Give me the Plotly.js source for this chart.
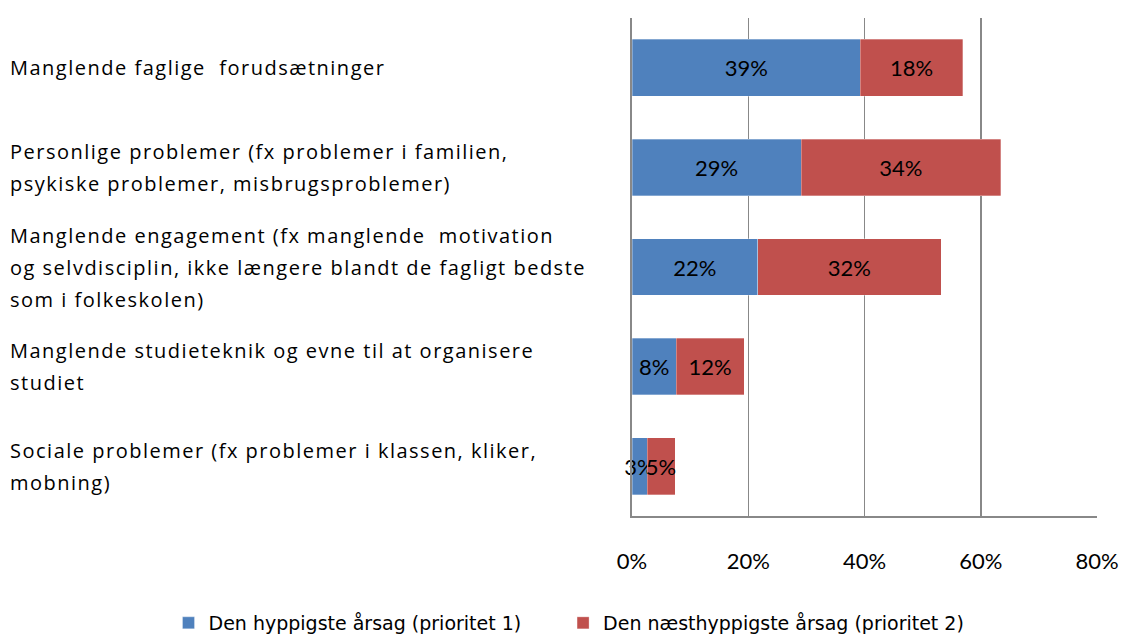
<!DOCTYPE html>
<html>
<head>
<meta charset="utf-8">
<script src="https://cdn.plot.ly/plotly-3.0.1.min.js"></script>
<style>
html,body{margin:0;padding:0;background:#fff;}
#chart{width:1127px;height:639px;}
#chart .annotation-text{letter-spacing:1.5px;}
</style>
</head>
<body>
<div id="chart"></div>
<script>
// Category labels (each entry = lines of the label), top to bottom
const categoryLines = [
  ["Manglende faglige  forudsætninger"],
  ["Personlige problemer (fx problemer i familien,", "psykiske problemer, misbrugsproblemer)"],
  ["Manglende engagement (fx manglende  motivation", "og selvdisciplin, ikke længere blandt de fagligt bedste", "som i folkeskolen)"],
  ["Manglende studieteknik og evne til at organisere", "studiet"],
  ["Sociale problemer (fx problemer i klassen, kliker,", "mobning)"]
];
const seriesNames = ["Den hyppigste årsag (prioritet 1)", "Den næsthyppigste årsag (prioritet 2)"];
const priority1 = [39.3, 29.1, 21.6, 7.6, 2.6];
const priority2 = [17.6, 34.3, 31.6, 11.7, 4.8];
const xTickVals = [0, 20, 40, 60, 80];
const xTickText = ["0%", "20%", "40%", "60%", "80%"];

const categories = categoryLines.map(l => l.join(" "));
const colors = ["#4F81BD", "#C0504D"];
const labelFont = "'Open Sans', Lato, sans-serif";
const legendFont = "'DejaVu Sans', 'Open Sans', sans-serif";
const numFont = "Lato, 'Open Sans', sans-serif";

function barTrace(vals, name, color, legendId) {
  return {
    type: "bar", orientation: "h", y: categories, x: vals, name: name, legend: legendId,
    marker: {color: color, line: {color: "rgba(255,255,255,0.6)", width: 0.5}},
    text: vals.map(v => Math.round(v) + "%"),
    texttemplate: "%{text}",
    textposition: "inside", insidetextanchor: "middle", textangle: 0,
    constraintext: "none", cliponaxis: false,
    insidetextfont: {family: numFont, size: 22, color: "#000"},
    hoverinfo: "skip"
  };
}

const data = [
  barTrace(priority1, seriesNames[0], colors[0], "legend"),
  barTrace(priority2, seriesNames[1], colors[1], "legend2")
];

const annotations = categoryLines.map((lines, i) => ({
  xref: "paper", yref: "y", x: (7 - 632) / 465.5, y: categories[i],
  xanchor: "left", yanchor: "middle", align: "left", showarrow: false,
  text: lines.map(l => '<span style="font-size:20px">' + l + '</span>').join("<br>"),
  font: {family: labelFont, size: 24.5, color: "#000"}
}));

function legendAt(px) {
  return {
    orientation: "h", x: (px - 632) / 465.5, xanchor: "left", y: -(623 - 516) / 498, yanchor: "middle",
    font: {family: legendFont, size: 19, color: "#000"}, bgcolor: "rgba(0,0,0,0)"
  };
}

const layout = {
  width: 1127, height: 639,
  margin: {l: 632, r: 30, t: 18, b: 123, autoexpand: false},
  barmode: "stack", bargap: 0.43,
  paper_bgcolor: "#fff", plot_bgcolor: "#fff",
  font: {family: numFont, color: "#000"},
  showlegend: true,
  legend: legendAt(168),
  legend2: legendAt(563),
  xaxis: {
    range: [0, 80], tickvals: xTickVals, ticktext: xTickText,
    showgrid: true, gridcolor: "#888", gridwidth: 1.5,
    showline: true, linecolor: "#888", linewidth: 2, zeroline: false,
    ticks: "", ticklabelstandoff: 25,
    tickfont: {size: 22, color: "#000"}, fixedrange: true
  },
  yaxis: {
    type: "category", categoryorder: "array", categoryarray: categories,
    autorange: "reversed", showticklabels: false, ticks: "",
    showline: true, linecolor: "#888", linewidth: 2.5, showgrid: false, zeroline: false
  },
  annotations: annotations
};

Plotly.newPlot("chart", data, layout, {displayModeBar: false, staticPlot: true});
</script>
</body>
</html>
